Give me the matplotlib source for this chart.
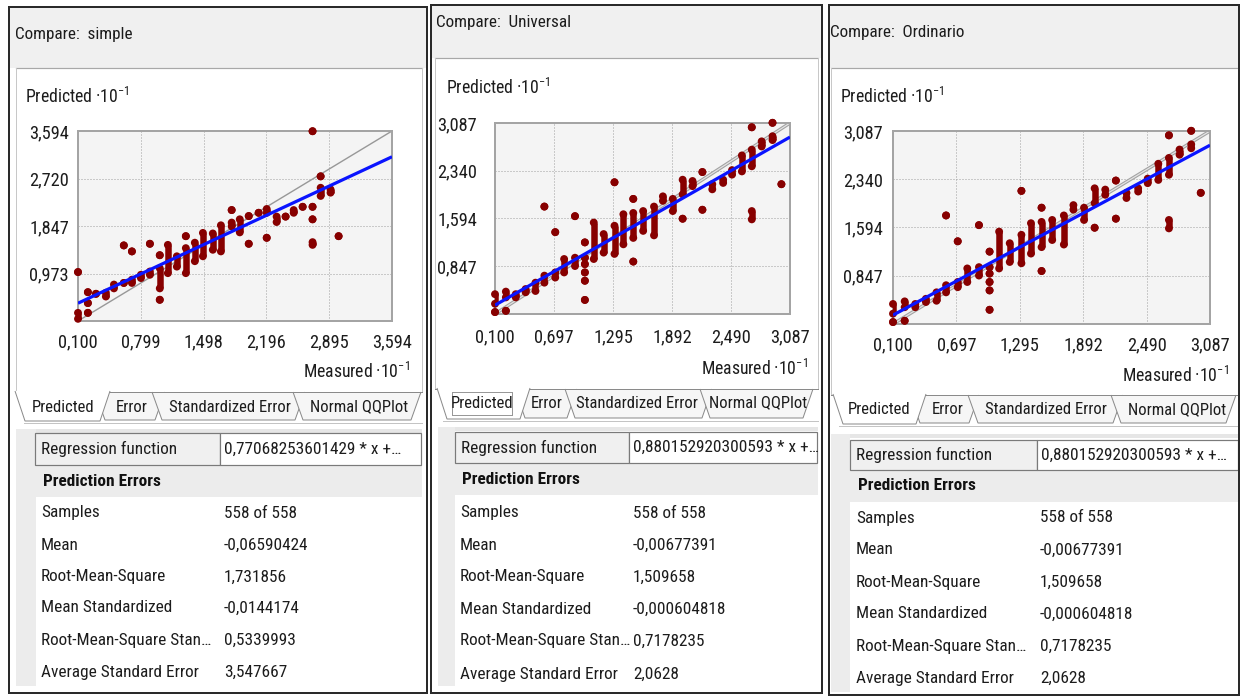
import matplotlib
matplotlib.use("Agg")
import numpy as np
import matplotlib.pyplot as plt
from matplotlib.patches import Rectangle, Polygon
from matplotlib import font_manager

W, H = 1243, 696

# ---------------------------------------------------------------- fonts
# Prefer a narrow sans face; WF is its average glyph width relative to Arial.
_fonts = font_manager.fontManager.ttflist
_names = {f.name for f in _fonts}
FONT, STRETCH, WF = "Liberation Sans", "normal", 1.0
for _cand, _wf in [("Liberation Sans Narrow", 0.82), ("Roboto Condensed", 0.86),
                   ("Open Sans Condensed", 0.80), ("Noto Sans Condensed", 0.88),
                   ("DejaVu Sans Condensed", 0.95), ("Arial Narrow", 0.82)]:
    if _cand in _names:
        FONT, WF = _cand, _wf
        break
else:
    for _cand, _wf in [("Roboto", 0.88), ("Noto Sans", 0.90), ("Open Sans", 0.92),
                       ("DejaVu Sans", 0.98)]:
        if any(f.name == _cand and f.stretch != "normal" for f in _fonts):
            FONT, STRETCH, WF = _cand, "condensed", _wf
            break

plt.rcParams["font.family"] = [FONT, "DejaVu Sans"]
plt.rcParams["font.stretch"] = STRETCH
plt.rcParams["mathtext.fontset"] = "custom"
plt.rcParams["mathtext.rm"] = FONT
plt.rcParams["mathtext.it"] = FONT
plt.rcParams["mathtext.default"] = "regular"

FS_TABLE = 10.7 / WF
FS_TITLE = 10.6 / WF
FS_TAB = 10.3 / WF
FS_LABEL = 10.9 / WF
FS_TICK = 11.4 / WF

# ---------------------------------------------------------------- data
methods = ["simple", "Universal", "Ordinario"]

# Simple kriging cross-validation: measured value, lowest / highest predicted value
simple_measured = [0.10, 0.10, 0.21, 0.21, 0.21, 0.30, 0.41, 0.50, 0.61, 0.61,
                   0.70, 0.70, 0.80, 0.90, 0.90, 1.01, 1.01, 1.01, 1.10, 1.20,
                   1.30, 1.30, 1.40, 1.49, 1.60, 1.69, 1.81, 1.81, 1.90, 2.00,
                   2.00, 2.11, 2.20, 2.20, 2.31, 2.41, 2.50, 2.60, 2.71, 2.71,
                   2.71, 2.71, 2.80, 2.80, 2.91, 3.00]
simple_pred_lo = [1.00, 0.14, 0.25, 0.43, 0.63, 0.60, 0.55, 0.70, 1.49, 0.80,
                  1.38, 0.80, 0.89, 1.52, 0.95, 1.31, 0.70, 0.49, 0.98, 1.10,
                  1.66, 0.98, 1.20, 1.29, 1.41, 1.38, 2.14, 1.84, 1.73, 2.03,
                  1.52, 2.09, 2.09, 1.63, 1.92, 2.02, 2.09, 2.20, 3.59, 2.20,
                  1.97, 1.50, 2.76, 2.40, 2.46, 1.66]
simple_pred_hi = [1.00, 0.25, 0.25, 0.43, 0.63, 0.60, 0.62, 0.77, 1.49, 0.80,
                  1.38, 0.86, 0.95, 1.52, 1.01, 1.31, 1.07, 0.49, 1.50, 1.29,
                  1.66, 1.44, 1.54, 1.72, 1.71, 1.86, 2.14, 1.91, 1.97, 2.03,
                  1.52, 2.09, 2.16, 1.63, 2.02, 2.02, 2.14, 2.20, 3.59, 2.20,
                  1.97, 1.55, 2.76, 2.55, 2.52, 1.66]

# Universal and ordinary kriging (identical cross-validation results)
kriging_measured = [0.10, 0.10, 0.21, 0.21, 0.31, 0.41, 0.51, 0.60, 0.60, 0.71,
                    0.71, 0.80, 0.91, 0.91, 1.01, 1.01, 1.01, 1.01, 1.01, 1.01,
                    1.10, 1.20, 1.31, 1.31, 1.40, 1.50, 1.50, 1.50, 1.60, 1.71,
                    1.80, 1.90, 2.00, 2.00, 2.10, 2.20, 2.20, 2.30, 2.41, 2.50,
                    2.60, 2.70, 2.70, 2.70, 2.80, 2.91, 2.91, 3.00]
kriging_pred_lo = [0.26, 0.13, 0.36, 0.15, 0.36, 0.44, 0.46, 1.78, 0.59, 1.38,
                   0.67, 0.75, 1.63, 0.85, 1.22, 0.98, 0.88, 0.75, 0.62, 0.32,
                   0.96, 1.06, 2.16, 1.04, 1.19, 1.90, 1.29, 0.92, 1.40, 1.33,
                   1.87, 1.71, 1.97, 1.59, 2.10, 2.32, 1.73, 2.05, 2.15, 2.28,
                   2.33, 3.02, 2.41, 1.58, 2.72, 3.09, 2.82, 2.13]
kriging_pred_hi = [0.41, 0.13, 0.45, 0.15, 0.41, 0.49, 0.59, 1.78, 0.70, 1.38,
                   0.75, 0.96, 1.63, 0.98, 1.22, 0.98, 0.88, 0.75, 0.62, 0.32,
                   1.53, 1.35, 2.16, 1.48, 1.66, 1.90, 1.68, 0.92, 1.71, 1.78,
                   1.94, 1.90, 2.20, 1.59, 2.18, 2.32, 1.73, 2.13, 2.20, 2.35,
                   2.58, 3.02, 2.67, 1.71, 2.80, 3.09, 2.88, 2.13]

regression_slopes = [0.77068253601429, 0.880152920300593, 0.880152920300593]
regression_intercepts = [0.35, 0.15, 0.15]
regression_text = ["0,77068253601429 * x +\u2026",
                   "0,880152920300593 * x +\u2026",
                   "0,880152920300593 * x +\u2026"]

simple_xticks = [0.100, 0.799, 1.498, 2.196, 2.895, 3.594]
simple_yticks = [0.100, 0.973, 1.847, 2.720, 3.594]
kriging_xticks = [0.100, 0.697, 1.295, 1.892, 2.490, 3.087]
kriging_yticks = [0.100, 0.847, 1.594, 2.340, 3.087]

tab_labels = ["Predicted", "Error", "Standardized Error", "Normal QQPlot"]
stat_labels = ["Samples", "Mean", "Root-Mean-Square", "Mean Standardized",
               "Root-Mean-Square Stan\u2026", "Average Standard Error"]
simple_stats = ["558 of 558", "-0,06590424", "1,731856", "-0,0144174",
                "0,5339993", "3,547667"]
universal_stats = ["558 of 558", "-0,00677391", "1,509658", "-0,000604818",
                   "0,7178235", "2,0628"]
ordinario_stats = ["558 of 558", "-0,00677391", "1,509658", "-0,000604818",
                   "0,7178235", "2,0628"]

series = [
    (simple_measured, simple_pred_lo, simple_pred_hi, simple_xticks, simple_yticks, simple_stats),
    (kriging_measured, kriging_pred_lo, kriging_pred_hi, kriging_xticks, kriging_yticks, universal_stats),
    (kriging_measured, kriging_pred_lo, kriging_pred_hi, kriging_xticks, kriging_yticks, ordinario_stats),
]

# ---------------------------------------------------------------- layout (pixels)
layouts = [
    dict(box=(9, 7, 427, 693), header_bottom=68, title=(15, 35), area=(16, 422),
         ax=(78, 131, 392, 321), ylab=(25, 97), ypad=9, xpad=12, meas=(410, 372),
         tab_top=392, tab_bot=420, tab_text_y=407, double_ref=False,
         tabs=[(15, 110), (95, 165), (152, 305), (293, 421)],
         tab_text_x=[63, 132, 230, 359], focus=False,
         strip=(16, 36), table_top=429, reg=(35, 433, 421, 465), split=220,
         pe=(465, 497), pe_x=43, rows_y=[513, 545, 577, 608, 640, 672],
         lab_x=41, val_x=224, table_bottom=686),
    dict(box=(431, 5, 822, 693), header_bottom=58, title=(436, 22), area=(435, 818),
         ax=(495, 123, 790, 314), ylab=(446, 88), ypad=18, xpad=14, meas=(808, 369),
         tab_top=389, tab_bot=418, tab_text_y=403, double_ref=True,
         tabs=[(437, 530), (515, 577), (565, 712), (700, 813)],
         tab_text_x=[482, 547, 637, 758], focus=True,
         strip=(438, 455), table_top=427, reg=(455, 432, 817, 463), split=629,
         pe=(463, 495), pe_x=462, rows_y=[513, 545, 577, 609, 641, 674],
         lab_x=460, val_x=633, table_bottom=686),
    dict(box=(829, 5, 1239, 695), header_bottom=68, title=(830, 33), area=(831, 1238),
         ax=(893, 131, 1210, 324), ylab=(840, 97), ypad=10, xpad=12, meas=(1229, 376),
         tab_top=395, tab_bot=423, tab_text_y=410, double_ref=True,
         tabs=[(833, 926), (910, 979), (968, 1123), (1111, 1236)],
         tab_text_x=[879, 948, 1046, 1177], focus=False,
         strip=(831, 850), table_top=434, reg=(850, 440, 1238, 470), split=1037,
         pe=(470, 502), pe_x=858, rows_y=[518, 550, 582, 614, 646, 678],
         lab_x=856, val_x=1040, table_bottom=692),
]

TXT = "#1c1c1c"
PX = 0.72  # points per pixel at 100 dpi
DOT = "#870000"

fig = plt.figure(figsize=(W / 100, H / 100), dpi=100)
fig.patch.set_facecolor("white")
bg = fig.add_axes([0, 0, 1, 1])
bg.set_xlim(0, W)
bg.set_ylim(H, 0)
bg.axis("off")


def rect(x0, y0, x1, y1, fc="none", ec="none", lw=1.0, z=1, ls="-"):
    bg.add_patch(Rectangle((x0, y0), x1 - x0, y1 - y0, facecolor=fc,
                           edgecolor=ec, lw=lw * PX, zorder=z, linestyle=ls))


def fmt(v):
    return f"{v:.3f}".replace(".", ",")


for i, (lay, (mx, plo, phi, xt, yt, stats)) in enumerate(zip(layouts, series)):
    x0, y0, x1, y1 = lay["box"]

    # window frame and header
    rect(x0, y0, x1, lay["header_bottom"], fc="#f0f0f0", z=1)
    rect(x0, y0, x1, y1, ec="#2a2a2a", lw=2, z=6)
    bg.text(lay["title"][0], lay["title"][1], f"Compare:  {methods[i]}",
            fontsize=FS_TITLE, color=TXT, va="center", ha="left", zorder=7)

    # white chart area
    a0, a1 = lay["area"]
    bg.plot([a0, a1], [lay["header_bottom"], lay["header_bottom"]], color="#a8a8a8", lw=1.2 * PX, zorder=2)
    bg.plot([a0, a0], [lay["header_bottom"], lay["tab_top"]], color="#c8c8c8", lw=1 * PX, zorder=2)
    bg.plot([a1, a1], [lay["header_bottom"], lay["tab_top"]], color="#c8c8c8", lw=1 * PX, zorder=2)

    bg.text(lay["ylab"][0], lay["ylab"][1], "Predicted \u00b710$^{-1}$",
            fontsize=FS_LABEL, color=TXT, va="center", ha="left", zorder=7)
    bg.text(lay["meas"][0], lay["meas"][1], "Measured \u00b710$^{-1}$",
            fontsize=FS_LABEL, color=TXT, va="center", ha="right", zorder=7)

    # tabs along the bottom of the chart area
    top, bot = lay["tab_top"], lay["tab_bot"]
    s = 10
    for k in range(1, 4):
        xl, xr = lay["tabs"][k]
        bg.add_patch(Polygon([(xl, top), (xl + s, bot), (xr - s, bot), (xr, top)],
                             closed=False, facecolor="#f6f6f6", edgecolor="#8a8a8a",
                             lw=1 * PX, zorder=3 + k * 0.01))
    bg.plot([a0, a1], [top, top], color="#8a8a8a", lw=1 * PX, zorder=3.1)
    xl, xr = lay["tabs"][0]
    bg.add_patch(Polygon([(xl, top - 1), (xl + s, bot + 1), (xr - s, bot + 1), (xr, top - 1)],
                         closed=False, facecolor="white", edgecolor="#8a8a8a",
                         lw=1 * PX, zorder=3.2))
    for k, lbl in enumerate(tab_labels):
        bg.text(lay["tab_text_x"][k], lay["tab_text_y"], lbl, fontsize=FS_TAB,
                color=TXT, ha="center", va="center", zorder=4)
    if lay["focus"]:
        cx = lay["tab_text_x"][0]
        rect(cx - 30, top + 3, cx + 30, bot - 3, ec="#333333", lw=1, z=4, ls=(0, (1, 1)))
    bg.plot([a0 + 8, a1], [bot + 3, bot + 3], color="#c4c4c4", lw=1 * PX, zorder=2)

    # statistics table
    tb, tbot = lay["table_top"], lay["table_bottom"]
    s0, s1 = lay["strip"]
    rect(s0, tb, a1, tb + 4, fc="#e6e6e6", z=2)
    rect(s0, tb, s1, tbot, fc="#ececec", z=2)
    rx0, ry0, rx1, ry1 = lay["reg"]
    rect(rx0, ry0, lay["split"], ry1, fc="#f0f0f0", ec="#7a7a7a", lw=1.2, z=3)
    rect(lay["split"], ry0, rx1, ry1, fc="white", ec="#7a7a7a", lw=1.2, z=3)
    ymid = (ry0 + ry1) / 2
    bg.text(rx0 + 6, ymid, "Regression function", fontsize=FS_TABLE, color=TXT,
            va="center", ha="left", zorder=4)
    bg.text(lay["split"] + 4, ymid, regression_text[i], fontsize=FS_TABLE, color=TXT,
            va="center", ha="left", zorder=4)
    rect(s1, lay["pe"][0], a1, lay["pe"][1], fc="#ececec", z=2)
    bg.text(lay["pe_x"], (lay["pe"][0] + lay["pe"][1]) / 2, "Prediction Errors",
            fontsize=FS_TABLE, fontweight="bold", color="#111111", va="center", ha="left", zorder=4)
    for lbl, val, yy in zip(stat_labels, stats, lay["rows_y"]):
        bg.text(lay["lab_x"], yy, lbl, fontsize=FS_TABLE, color=TXT, va="center", ha="left", zorder=4)
        bg.text(lay["val_x"], yy, val, fontsize=FS_TABLE, color=TXT, va="center", ha="left", zorder=4)

    # scatter plot of predicted versus measured
    l, t, r, b = lay["ax"]
    ax = fig.add_axes([l / W, 1 - b / H, (r - l) / W, (b - t) / H])
    ax.set_facecolor("#f4f4f4")
    for sp in ax.spines.values():
        sp.set_color("#a4a4a4")
        sp.set_linewidth(2 * PX)
    ax.set_xlim(xt[0], xt[-1])
    ax.set_ylim(yt[0], yt[-1])
    ax.set_xticks(xt)
    ax.set_xticklabels([fmt(v) for v in xt])
    ax.set_yticks(yt[1:])
    ax.set_yticklabels([fmt(v) for v in yt[1:]])
    ax.tick_params(axis="both", length=0, labelsize=FS_TICK, labelcolor=TXT)
    ax.tick_params(axis="y", pad=lay["ypad"] * PX)
    ax.tick_params(axis="x", pad=lay["xpad"] * PX)
    ax.grid(True, linestyle=(0, (1, 2)), color="#a0a0a0", lw=1 * PX)
    ax.set_axisbelow(True)

    # 1:1 reference line
    if lay["double_ref"]:
        ax.plot([xt[0], xt[-1]], [yt[0], yt[-1]], color="#a2a2a2", lw=3.4 * PX, zorder=2)
        ax.plot([xt[0], xt[-1]], [yt[0], yt[-1]], color="#e4e4e4", lw=1.2 * PX, zorder=2.1)
    else:
        ax.plot([xt[0], xt[-1]], [yt[0], yt[-1]], color="#989898", lw=1.4 * PX, zorder=2)

    mxa, loa, hia = np.array(mx), np.array(plo), np.array(phi)
    ax.vlines(mxa, loa, hia, color=DOT, lw=6.5 * PX, zorder=3)
    ax.scatter(np.concatenate([mxa, mxa]), np.concatenate([loa, hia]), s=32,
               color=DOT, edgecolors="none", zorder=3, clip_on=False)
    xs = np.array([xt[0], xt[-1]])
    ax.plot(xs, regression_slopes[i] * xs + regression_intercepts[i],
            color="#0a14ff", lw=3.2 * PX, zorder=4, solid_capstyle="butt")

fig.savefig("out.png", dpi=100, facecolor="white")
